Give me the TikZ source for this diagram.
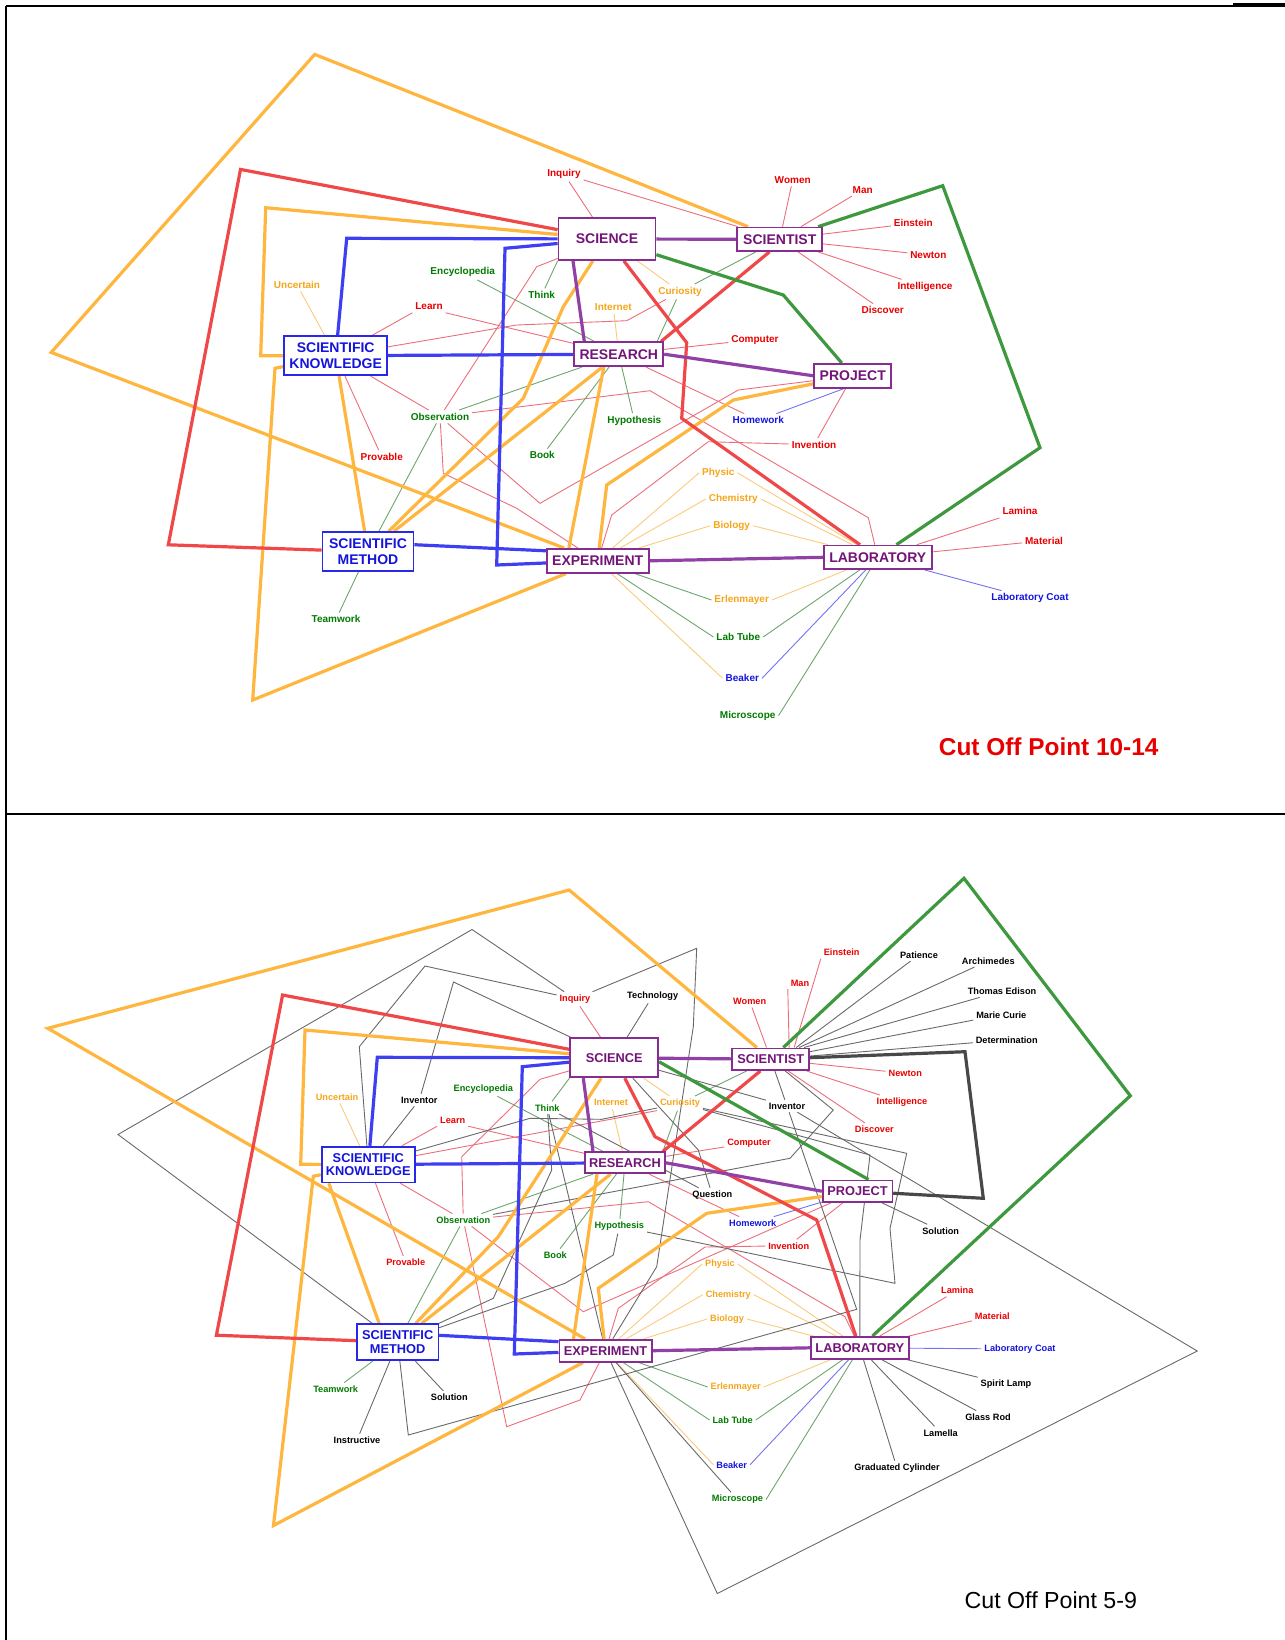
\documentclass[tikz,border=0pt]{standalone}
\usepackage{fontspec}
\setmainfont{Liberation Sans}
\usetikzlibrary{calc}
\pgfdeclarelayer{bg}
\pgfsetlayers{bg,main}
% thick group outlines
\definecolor{cOrange}{RGB}{255,182,62}
\definecolor{cRed}{RGB}{240,72,72}
\definecolor{cBlue}{RGB}{62,62,242}
\definecolor{cGreen}{RGB}{62,152,62}
\definecolor{cPurple}{RGB}{145,65,165}
\definecolor{cDark}{RGB}{72,72,72}
% thin links
\definecolor{tRed}{RGB}{236,110,122}
\definecolor{tGreen}{RGB}{110,165,110}
\definecolor{tOrange}{RGB}{250,202,125}
\definecolor{tBlue}{RGB}{115,115,240}
\definecolor{tGray}{RGB}{105,105,105}
% texts and boxes
\definecolor{xRed}{RGB}{232,0,0}
\definecolor{xGreen}{RGB}{0,122,0}
\definecolor{xOrange}{RGB}{245,165,25}
\definecolor{xBlue}{RGB}{20,20,220}
\definecolor{xPurple}{RGB}{115,20,120}
\definecolor{boxPurple}{RGB}{135,45,145}
\definecolor{boxBlue}{RGB}{40,40,235}
\begin{document}
\begin{tikzpicture}[x=0.5pt,y=-0.5pt,
  pbox/.style={draw=boxPurple,text=xPurple,fill=white,line width=0.85pt,inner sep=0pt,align=center},
  bbox/.style={draw=boxBlue,text=xBlue,fill=white,line width=0.85pt,inner sep=0pt,align=center},
  topf/.style={font=\fontsize{7}{8}\selectfont\bfseries},
  botf/.style={font=\fontsize{6.4}{6.9}\selectfont\bfseries},
  tl/.style={inner sep=1.3pt,font=\fontsize{5.0}{6}\selectfont\bfseries},
  bl/.style={inner sep=1.3pt,font=\fontsize{4.6}{5.6}\selectfont\bfseries},
  tn/.style={line width=0.45pt},
  tk/.style={line width=1.6pt},
]
\useasboundingbox (0,0) rectangle (1285,1640);

% ---------- frame ----------
\draw[line width=1pt] (6,6) -- (1233,6);
\draw[line width=1.6pt] (1233,5) -- (1285,5);
\draw[line width=1pt] (6,6) -- (6,1640);
\draw[line width=1.2pt] (6,814) -- (1285,814);

% =================== upper map ===================
\node[pbox,topf,minimum width=48.5pt,minimum height=21pt] (tsci) at (607,239) {SCIENCE};
\node[pbox,topf,minimum width=42.5pt,minimum height=11.75pt] (tsct) at (779.8,239.3) {SCIENTIST};
\node[bbox,topf,minimum width=51.5pt,minimum height=19.5pt] (tsk) at (335.7,355.7) {SCIENTIFIC\\KNOWLEDGE};
\node[pbox,topf,minimum width=44.5pt,minimum height=12pt] (tres) at (618.8,354.2) {RESEARCH};
\node[pbox,topf,minimum width=38.5pt,minimum height=12pt] (tproj) at (852.8,375.8) {PROJECT};
\node[bbox,topf,minimum width=45.5pt,minimum height=19.5pt] (tsm) at (368,551.7) {SCIENTIFIC\\METHOD};
\node[pbox,topf,minimum width=51pt,minimum height=12pt] (texp) at (597.7,560.8) {EXPERIMENT};
\node[pbox,topf,minimum width=54pt,minimum height=11.75pt] (tlab) at (877.8,557.3) {LABORATORY};

\node[tl,text=xRed] (tInq) at (564,174) {Inquiry};
\node[tl,text=xRed] (tWom) at (792.7,179.7) {Women};
\node[tl,text=xRed] (tMan) at (862.7,189.7) {Man};
\node[tl,text=xRed] (tEin) at (913.3,223.3) {Einstein};
\node[tl,text=xRed] (tNew) at (928.3,255) {Newton};
\node[tl,text=xRed] (tInt) at (925,287) {Intelligence};
\node[tl,text=xRed] (tDis) at (882.7,310.3) {Discover};
\node[tl,text=xGreen] (tEnc) at (462.7,272.3) {Encyclopedia};
\node[tl,text=xOrange] (tUnc) at (297,284.7) {Uncertain};
\node[tl,text=xRed] (tLea) at (429,306.3) {Learn};
\node[tl,text=xGreen] (tThi) at (541.7,295) {Think};
\node[tl,text=xOrange] (tIne) at (613.3,307) {Internet};
\node[tl,text=xOrange] (tCur) at (680,291.7) {Curiosity};
\node[tl,text=xRed] (tCom) at (755,339.7) {Computer};
\node[tl,text=xGreen] (tObs) at (440,416.7) {Observation};
\node[tl,text=xGreen] (tHyp) at (634.3,420.7) {Hypothesis};
\node[tl,text=xBlue] (tHom) at (758.3,420.3) {Homework};
\node[tl,text=xRed] (tInv) at (814,444.7) {Invention};
\node[tl,text=xRed] (tPro) at (381.7,456.7) {Provable};
\node[tl,text=xGreen] (tBoo) at (542.3,455.3) {Book};
\node[tl,text=xOrange] (tPhy) at (718.3,472.7) {Physic};
\node[tl,text=xOrange] (tChe) at (733.3,499) {Chemistry};
\node[tl,text=xOrange] (tBio) at (731.7,525.7) {Biology};
\node[tl,text=xRed] (tLam) at (1020,511.3) {Lamina};
\node[tl,text=xRed] (tMat) at (1044,540.7) {Material};
\node[tl,text=xBlue] (tCoa) at (1030,598.3) {Laboratory Coat};
\node[tl,text=xOrange] (tErl) at (741.7,600) {Erlenmayer};
\node[tl,text=xGreen] (tTub) at (738.3,637) {Lab Tube};
\node[tl,text=xBlue] (tBea) at (742.3,678.3) {Beaker};
\node[tl,text=xGreen] (tMic) at (747.7,715.7) {Microscope};
\node[tl,text=xGreen] (tTea) at (336,619.3) {Teamwork};
\node[text=xRed,inner sep=0pt,font=\fontsize{12.2}{14}\selectfont\bfseries] (tcut) at (1048.7,746.6) {Cut Off Point 10-14};

\begin{pgfonlayer}{bg}
% thin links, upper map
\draw[tn,tRed] (tInq) -- (tsci);
\draw[tn,tRed] (tInq) -- (tsct);
\foreach \l in {tWom,tMan,tEin,tNew,tInt,tDis} \draw[tn,tRed] (\l) -- (tsct);
\draw[tn,tOrange] (tUnc) -- (tsk);
\draw[tn,tRed] (tLea.south west) -- (tsk);
\draw[tn,tRed] (tLea.south east) -- (tres);
\draw[tn,tGreen] (tEnc) -- (tres);
\draw[tn,tGreen] (tThi) -- (tsci.south west);
\draw[tn,tRed] (tObs) -- (536.7,266.7) -- (tsci);
\draw[tn,tRed] (tsk) -- (516.7,325) -- (626.7,320.7) -- (tCur);
\draw[tn,tGreen] (tCur) -- ($(tres.north east)+(-7,0)$);
\draw[tn,tGreen] (tCur) -- (tsct);
\draw[tn,tOrange] (tCur) -- (tsci);
\draw[tn,tOrange] (tIne) -- (tres);
\draw[tn,tRed] (tres) -- (tCom);
\draw[tn,tRed] (tsk) -- (tObs);
\draw[tn,tRed] (tsk) -- (tPro);
\draw[tn,tGreen] (tObs) -- (tres);
\draw[tn,tRed] (tObs) -- (650,390.7) -- (868.3,517.7) -- (tlab);
\draw[tn,tRed] (tObs) -- (540,503.3) -- (738.3,390) -- (tproj);
\draw[tn,tRed] (tObs) -- (443.3,473.3) -- (516.7,508.3) -- (texp);
\draw[tn,tGreen] (tObs) -- (tsm);
\draw[tn,tGreen] (tHyp) -- (tres);
\draw[tn,tGreen] (tres) -- (tBoo);
\draw[tn,tRed] (tres) -- (tHom);
\draw[tn,tRed] (tInv) -- (708.3,441.7) -- (611.7,515) -- (texp);
\draw[tn,tBlue] ($(tproj.south)+(-9,0)$) -- (tHom);
\draw[tn,tRed] (tproj) -- (tInv);
\foreach \l in {tPhy,tChe,tBio} {
  \draw[tn,tOrange] (\l.west) -- (texp);
  \draw[tn,tOrange] (\l.east) -- (tlab);
}
\draw[tn,tGreen] (tErl.west) -- (texp);
\draw[tn,tOrange] (tErl.east) -- (tlab);
\draw[tn,tGreen] (tTub.west) -- (texp);
\draw[tn,tGreen] (tTub.east) -- (tlab);
\draw[tn,tOrange] (tBea.west) -- (texp);
\draw[tn,tBlue] (tBea.east) -- (tlab);
\draw[tn,tGreen] (tMic.east) -- (tlab);
\draw[tn,tRed] (tLam) -- (tlab);
\draw[tn,tRed] (tMat) -- (tlab);
\draw[tn,tBlue] (tCoa) -- (tlab);
\draw[tn,tGreen] (tTea) -- (tsm);

% thick outlines, upper map
\draw[tk,cOrange] (tsct) -- (314.7,54.4) -- (51.2,352.4) -- (texp);
\draw[tk,cOrange] (tsci) -- (265.7,207.7) -- (260.7,355.7) -- (tsk);
\draw[tk,cOrange] (tsk) -- (275,368.3) -- (252.7,700) -- (texp);
\draw[tk,cOrange] (tsk) -- (tsm);
\draw[tk,cOrange] (tsci) -- (563.3,306.7) -- (523.3,398.3) -- (tsm);
\draw[tk,cOrange] (tres) -- (tsm);
\draw[tk,cOrange] ($(tres.south)+(-15,0)$) -- ($(texp.north west)+(23,0)$);
\draw[tk,cOrange] (tproj) -- (733.3,400) -- (606.7,485) -- (texp);
\draw[tk,cRed] (tsci) -- (240.5,169.4) -- (168.3,544.8) -- (tsm);
\draw[tk,cRed] ($(tres.north east)+(-3,0)$) -- ($(tsct.south west)+(33,0)$);
\draw[tk,cRed] (tsci) -- (686.7,342.7) -- (681.7,418.3) -- (tlab);
\draw[tk,cBlue] (tsci) -- (346.7,238.3) -- (tsk);
\draw[tk,cBlue] (tsk) -- (tres);
\draw[tk,cBlue] (tsci) -- (505,248.3) -- (496.7,565) -- (texp);
\draw[tk,cBlue] ($(tsm.east)+(0,-7)$) -- ($(texp.west)+(0,-10)$);
\draw[tk,cPurple] (tsci) -- (tsct);
\draw[tk,cPurple] ($(tsci.south)+(-34,0)$) -- ($(tres.north)+(-34.5,0)$);
\draw[tk,cPurple] (tres.east) -- (tproj.west);
\draw[tk,cPurple] (texp.east) -- (tlab.west);
\draw[tk,cGreen] (tsci) -- (783.3,295) -- (tproj);
\draw[tk,cGreen] (tsct) -- (942.7,185.7) -- (1040,447.7) -- (tlab);
\end{pgfonlayer}

% =================== lower map ===================
\node[pbox,botf,minimum width=44pt,minimum height=19.5pt] (bsci) at (614.3,1057.8) {SCIENCE};
\node[pbox,botf,minimum width=38.5pt,minimum height=10.85pt] (bsct) at (770.8,1059.2) {SCIENTIST};
\node[bbox,botf,minimum width=46.65pt,minimum height=17.85pt] (bsk) at (368.3,1164.5) {SCIENTIFIC\\KNOWLEDGE};
\node[pbox,botf,minimum width=40pt,minimum height=10.5pt] (bres) at (625,1162.8) {RESEARCH};
\node[pbox,botf,minimum width=34.85pt,minimum height=10.85pt] (bproj) at (857.5,1191.2) {PROJECT};
\node[bbox,botf,minimum width=40.65pt,minimum height=18pt] (bsm) at (397.7,1342.3) {SCIENTIFIC\\METHOD};
\node[pbox,botf,minimum width=46.15pt,minimum height=11pt] (bexp) at (605.5,1350.7) {EXPERIMENT};
\node[pbox,botf,minimum width=48.85pt,minimum height=10.85pt] (blab) at (859.8,1347.8) {LABORATORY};

\node[bl,text=xRed] (bInq) at (575,999) {Inquiry};
\node[bl] (bTec) at (652.7,996) {Technology};
\node[bl,text=xRed] (bEin) at (841.7,952.3) {Einstein};
\node[bl,text=xRed] (bMan) at (800,983) {Man};
\node[bl,text=xRed] (bWom) at (749.7,1001.3) {Women};
\node[bl] (bPat) at (919,954.7) {Patience};
\node[bl] (bArc) at (988.3,960.7) {Archimedes};
\node[bl] (bEdi) at (1002,991) {Thomas Edison};
\node[bl] (bMar) at (1001.3,1014.7) {Marie Curie};
\node[bl] (bDet) at (1006.7,1040) {Determination};
\node[bl,text=xRed] (bNew) at (905.3,1073.3) {Newton};
\node[bl,text=xRed] (bInt) at (902,1102.3) {Intelligence};
\node[bl,text=xRed] (bDis) at (874.3,1129.3) {Discover};
\node[bl] (bInvR) at (787,1106) {Inventor};
\node[bl,text=xRed] (bCom) at (749,1143) {Computer};
\node[bl] (bQue) at (712.3,1195) {Question};
\node[bl,text=xOrange] (bUnc) at (337,1097) {Uncertain};
\node[bl] (bInvL) at (419.3,1100) {Inventor};
\node[bl,text=xGreen] (bEnc) at (483.3,1089) {Encyclopedia};
\node[bl,text=xGreen] (bThi) at (547.3,1107.7) {Think};
\node[bl,text=xOrange] (bIne) at (611,1102.7) {Internet};
\node[bl,text=xOrange] (bCuri) at (680,1103.3) {Curiosity};
\node[bl,text=xRed] (bLea) at (452.7,1120) {Learn};
\node[bl,text=xGreen] (bObs) at (463.3,1220) {Observation};
\node[bl,text=xGreen] (bHyp) at (619.3,1226.3) {Hypothesis};
\node[bl,text=xRed] (bPro) at (405.7,1262.3) {Provable};
\node[bl,text=xGreen] (bBoo) at (555.3,1255) {Book};
\node[bl,text=xBlue] (bHom) at (752.7,1223) {Homework};
\node[bl,text=xRed] (bInv) at (788.7,1245.7) {Invention};
\node[bl] (bSolR) at (940.7,1230.7) {Solution};
\node[bl,text=xOrange] (bPhy) at (720,1264) {Physic};
\node[bl,text=xOrange] (bChe) at (728.3,1294.7) {Chemistry};
\node[bl,text=xOrange] (bBio) at (727,1319) {Biology};
\node[bl,text=xRed] (bLam) at (957.3,1290.3) {Lamina};
\node[bl,text=xRed] (bMat) at (992.3,1316) {Material};
\node[bl,text=xBlue] (bCoa) at (1020,1349) {Laboratory Coat};
\node[bl] (bSpi) at (1006,1384.3) {Spirit Lamp};
\node[bl] (bGla) at (988,1417) {Glass Rod};
\node[bl] (bLml) at (940.7,1432.7) {Lamella};
\node[bl] (bGra) at (897,1468) {Graduated Cylinder};
\node[bl,text=xOrange] (bErl) at (735.7,1387) {Erlenmayer};
\node[bl,text=xGreen] (bTub) at (732.7,1420) {Lab Tube};
\node[bl,text=xBlue] (bBea) at (731.7,1464.7) {Beaker};
\node[bl,text=xGreen] (bMic) at (737.5,1499.5) {Microscope};
\node[bl,text=xGreen] (bTea) at (335.7,1389) {Teamwork};
\node[bl] (bSolL) at (449.3,1397.3) {Solution};
\node[bl] (bIns) at (357,1440) {Instructive};
\node[inner sep=0pt,font=\fontsize{11.6}{14}\selectfont] (bcut) at (1050.8,1599.8) {Cut Off Point 5-9};

\begin{pgfonlayer}{bg}
% thin links, lower map
\draw[tn,tRed] (bInq) -- (bsci);
\draw[tn,tRed] (bWom) -- (bsct);
\draw[tn,tRed] (bMan.south west) -- ($(bsct.north east)+(-21,0)$);
\draw[tn,tRed] (bEin.south west) -- ($(bsct.north east)+(-16,0)$);
\foreach \l in {bNew,bInt,bDis} \draw[tn,tRed] (\l) -- (bsct);
\draw[tn,tGray] (bPat) -- ($(bsct.north east)+(-14,0)$);
\draw[tn,tGray] (bArc) -- ($(bsct.north east)+(-11,0)$);
\draw[tn,tGray] (bEdi) -- ($(bsct.north east)+(-6,0)$);
\draw[tn,tGray] (bMar) -- (bsct);
\draw[tn,tGray] (bDet) -- (bsct);
\draw[tn,tGray] (bTec) -- (bsci);
\draw[tn,tOrange] (bUnc) -- (bsk);
\draw[tn,tGray] (bInvL) -- (bsk);
\draw[tn,tGray] (bInvL) -- (453.5,982) -- (bsci);
\draw[tn,tRed] (bLea.south west) -- (bsk);
\draw[tn,tRed] (bLea.south east) -- (bres);
\draw[tn,tGreen] (bEnc) -- (bres);
\draw[tn,tGreen] (bThi) -- (bsci.south west);
\draw[tn,tOrange] (bIne) -- (bres);
\draw[tn,tOrange] (bCuri) -- (bsci);
\draw[tn,tGreen] (bCuri) -- ($(bres.north east)+(-3,0)$);
\draw[tn,tGreen] (bCuri) -- (bsct);
\draw[tn,tRed] (bres) -- (bCom);
\draw[tn,tRed] (bsk) -- (bObs);
\draw[tn,tRed] (bsk) -- (bPro);
\draw[tn,tRed] (bsk) -- (bCuri.south west);
\draw[tn,tGreen] (bObs) -- (bres);
\draw[tn,tGreen] (bObs) -- (bsm);
\draw[tn,tGreen] (bHyp) -- (bres);
\draw[tn,tGreen] (bres) -- (bBoo);
\draw[tn,tRed] (bres) -- (bHom);
\draw[tn,tBlue] (bproj) -- (bHom);
\draw[tn,tRed] (bproj) -- (bInv);
\draw[tn,tGray] (bproj) -- (bSolR);
\draw[tn,tRed] (bObs) -- (461.7,1156.7) -- (540,1079.3) -- (bsci);
\draw[tn,tRed] (bObs) -- (648.3,1201.7) -- (845,1316.7) -- (blab);
\draw[tn,tRed] (bObs) -- (583.3,1311.7) -- (bproj);
\draw[tn,tRed] (bObs) -- (506.7,1426.7) -- (580,1400) -- (bexp);
\draw[tn,tRed] (bInv) -- (705,1247) -- (618.3,1308.3) -- (bexp);
\foreach \l in {bPhy,bChe,bBio} {
  \draw[tn,tOrange] (\l.west) -- (bexp);
  \draw[tn,tOrange] (\l.east) -- (blab);
}
\draw[tn,tGreen] (bErl.west) -- (bexp);
\draw[tn,tOrange] (bErl.east) -- (blab);
\draw[tn,tGreen] (bTub.west) -- (bexp);
\draw[tn,tGreen] (bTub.east) -- (blab);
\draw[tn,tOrange] (bBea.west) -- (bexp);
\draw[tn,tBlue] (bBea.east) -- (blab);
\draw[tn,tGreen] (bMic.east) -- (blab);
\draw[tn,tRed] (bLam) -- (blab);
\draw[tn,tRed] (bMat) -- (blab);
\draw[tn,tBlue] (bCoa) -- (blab);
\foreach \l in {bSpi,bGla,bLml,bGra} \draw[tn,tGray] (\l) -- (blab);
\draw[tn,tGreen] (bTea) -- (bsm);
\draw[tn,tGray] (bSolL) -- (bsm);
\draw[tn,tGray] (bIns) -- (bsm);
% grey links of the wider cut
\draw[tn,tGray] (bInq) -- (425,966) -- (359.3,1046.7) -- (bsk);
\draw[tn,tGray] (bInq) -- (472,929.5) -- (118,1134.5) -- (bsm);
\draw[tn,tGray] (bInq) -- (696.7,948.3) -- (693.3,1026.7) -- (656.7,1266.7) -- (bexp);
\draw[tn,tGray] (bThi) -- (bQue);
\draw[tn,tGray] (bThi) -- (551.7,1170) -- (493.3,1298.3) -- (bsm);
\draw[tn,tGray] (bThi) -- (bexp);
\draw[tn,tGray] (bHyp) -- (613.3,1255) -- (565,1283.3) -- (bsm);
\draw[tn,tGray] (bsm) -- (408.3,1435) -- (856.7,1309.3) -- (bInvR);
\draw[tn,tGray] (bInvR) -- (bsct);
\draw[tn,tGray] (bInvR) -- (1197.2,1351) -- (717.3,1593.5) -- (bexp);
\draw[tn,tGray] (bexp) -- (bMic);
\draw[tn,tGray] (bObs) -- (790,1158.3) -- (833.3,1110) -- (bsct);
\draw[tn,tGray] (bsci) -- (bInvR);
\draw[tn,tGray] (bsci) -- (698.3,1150) -- (bQue);
\draw[tn,tGray] (bsk) -- (530,1118.3) -- (601.7,1119.3) -- (bCuri);
\draw[tn,tGray] (bCuri) -- (906.7,1153.3) -- (890,1228.3) -- (895,1283.3) -- (bHyp);
\draw[tn,tGray] (bCuri) -- (870,1155) -- (860,1240) -- (blab);

% thick outlines, lower map
\draw[tk,cOrange] (bsct) -- (569.2,890) -- (47.8,1028.3) -- (bexp);
\draw[tk,cOrange] (bsci) -- (305,1030) -- (300.7,1164.3) -- (bsk);
\draw[tk,cOrange] (bsk) -- (313.3,1176.3) -- (273.5,1525.5) -- (bexp);
\draw[tk,cOrange] ($(bsk.south west)+(8,0)$) -- ($(bsm.north west)+(23,0)$);
\draw[tk,cOrange] (bsci) -- (498.3,1236.7) -- (bsm);
\draw[tk,cOrange] (bres) -- (bsm);
\draw[tk,cOrange] ($(bres.south)+(-28,0)$) -- ($(bexp.north)+(-32,0)$);
\draw[tk,cOrange] (bproj) -- (706.7,1213.3) -- (598.3,1288.3) -- (bexp);
\draw[tk,cRed] (bsci) -- (282.6,995) -- (216.4,1335.2) -- (bsm);
\draw[tk,cRed] ($(bres.north east)+(-3,0)$) -- ($(bsct.south west)+(29,0)$);
\draw[tk,cRed] (bsci) -- (655,1136.7) -- (816.7,1220) -- (blab);
\draw[tk,cBlue] (bsci) -- (377.3,1057.3) -- (bsk);
\draw[tk,cBlue] (bsk) -- (bres);
\draw[tk,cBlue] (bsci) -- (522.3,1066.7) -- (514.3,1354) -- (bexp);
\draw[tk,cBlue] ($(bsm.east)+(0,-7)$) -- ($(bexp.west)+(0,-9)$);
\draw[tk,cPurple] (bsci) -- (bsct);
\draw[tk,cPurple] ($(bsci.south)+(-31,0)$) -- ($(bres.north)+(-32,0)$);
\draw[tk,cPurple] (bres.east) -- (bproj.west);
\draw[tk,cPurple] (bexp.east) -- (blab.west);
\draw[tk,cGreen] ($(bsci.east)+(0,4)$) -- ($(bproj.north)+(11,0)$);
\draw[tk,cGreen] (bsct) -- (964,878.3) -- (1130.3,1095.8) -- (blab);
\draw[tk,cDark] (bsct) -- (965,1051.7) -- (983.3,1198.3) -- (bproj);
\end{pgfonlayer}
\end{tikzpicture}
\end{document}
